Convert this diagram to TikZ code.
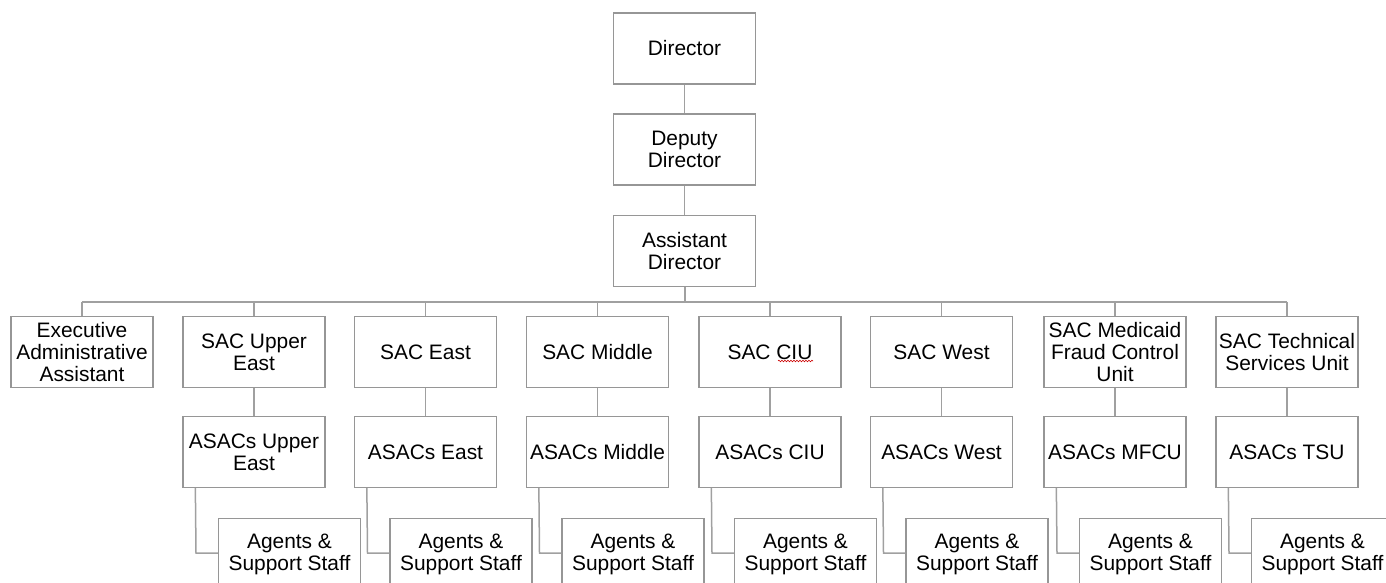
\documentclass[tikz,border=0pt]{standalone}
\usepackage{fontspec}
\setmainfont{Liberation Sans}
\usetikzlibrary{decorations.pathmorphing}
\definecolor{linegray}{HTML}{A0A0A0}
\definecolor{boxgray}{HTML}{969696}
\begin{document}
\begin{tikzpicture}[x=1bp,y=-1bp,
  box/.style={draw=boxgray,line width=1.3bp,minimum width=142bp,minimum height=71bp,
    inner sep=1bp,align=center,font=\fontsize{21}{22}\selectfont,text=black},
  link/.style={draw=linegray,line width=1.5bp}]
\useasboundingbox (0,0) rectangle (1386,583);
\clip (0,0) rectangle (1386,583);
\fill[white] (0,0) rectangle (1386,583);
% top chain
\node[box] (dir) at (684.5,48.5) {Director};
\node[box] (dep) at (684.5,149.5) {Deputy\\Director};
\node[box] (ast) at (684.5,251) {Assistant\\Director};
\coordinate (bus) at (684.5,302);
\draw[link] (dir) -- (dep);
\draw[link] (dep) -- (ast);
\draw[link,line width=2bp] (ast) -- (bus);
% executive assistant
\node[box] (exec) at (82,352) {Executive\\Administrative\\Assistant};
\coordinate (busL) at (82,302);
\coordinate (busR) at (1287,302);
\draw[link] (busL) -- (busR);
\draw[link] (busL) -- (exec.north);
% columns
\foreach \n/\cx/\sac/\asac in {
  1/254/{SAC Upper\\East}/{ASACs Upper\\East},
  2/425.5/{SAC East}/{ASACs East},
  3/597.5/{SAC Middle}/{ASACs Middle},
  4/770/{SAC CIU}/{ASACs CIU},
  5/941.5/{SAC West}/{ASACs West},
  6/1115/{SAC Medicaid\\Fraud Control\\Unit}/{ASACs MFCU},
  7/1287/{SAC Technical\\Services Unit}/{ASACs TSU}} {
  \node[box] (sac\n) at (\cx,352) {\sac};
  \node[box] (asac\n) at (\cx,452) {\asac};
  \node[box] (ag\n) at (\cx+35.5,554) {Agents \&\\Support Staff};
  \coordinate (top\n) at (\cx,302);
  \coordinate (elb\n) at (\cx-58,553);
  \draw[link] (top\n) -- (sac\n.north);
  \draw[link] (sac\n) -- (asac\n);
  \draw[link] (asac\n.south west) ++(13,0) coordinate (st\n) -- (elb\n) -- (elb\n -| ag\n.west);
}
% spell-check squiggle under CIU
\coordinate (sqA) at (778,361);
\coordinate (sqB) at (813,361);
\draw[red!80!black,line width=0.6bp,decorate,decoration={snake,amplitude=0.8bp,segment length=3bp}] (sqA) -- (sqB);
\end{tikzpicture}
\end{document}
